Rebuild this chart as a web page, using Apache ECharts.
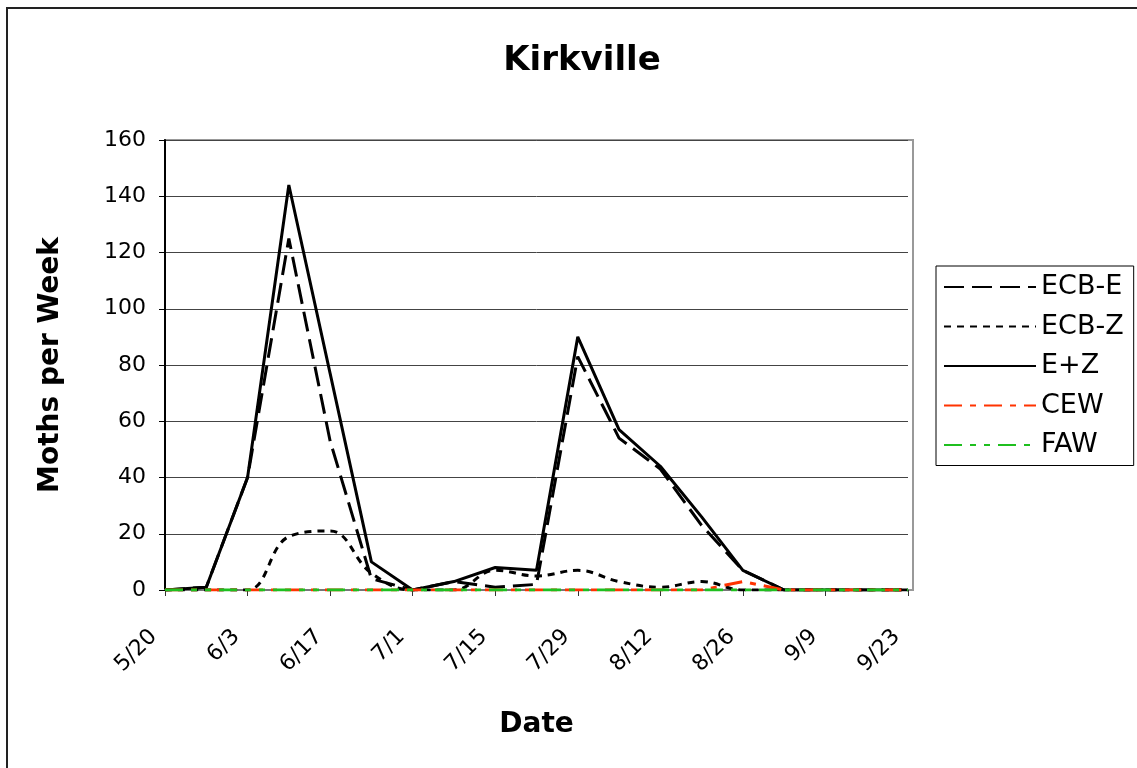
<!DOCTYPE html>
<html>
<head>
<meta charset="utf-8">
<script src="https://cdn.jsdelivr.net/npm/echarts@6/dist/echarts.min.js"></script>
<style>
html,body{margin:0;padding:0;background:#fff;}
#chart{width:1137px;height:768px;}
</style>
</head>
<body>
<div id="chart"></div>
<script>
var categories = ['5/20','5/27','6/3','6/10','6/17','6/24','7/1','7/8','7/15','7/22','7/29','8/5','8/12','8/19','8/26','9/2','9/9','9/16','9/23'];
var ecbE = [0, 1, 40, 125, 53, 4, 0, 3, 1, 2, 83, 54, 43, 23, 7, 0, 0, 0, 0];
var ecbZ = [0, 0, 0, 19, 21, 6, 0, 0, 7, 5, 7, 3, 1, 3, 0, 0, 0, 0, 0];
var ePlusZ = [0, 1, 40, 144, 77, 10, 0, 3, 8, 7, 90, 57, 44, 26, 7, 0, 0, 0, 0];
var cew = [0, 0, 0, 0, 0, 0, 0, 0, 0, 0, 0, 0, 0, 0, 3, 0, 0, 0, 0];
var faw = [0, 0, 0, 0, 0, 0, 0, 0, 0, 0, 0, 0, 0, 0, 0, 0, 0, 0, 0];
var yTicks = [0, 20, 40, 60, 80, 100, 120, 140, 160];

var FONT = 'DejaVu Sans';
var chart = echarts.init(document.getElementById('chart'), null, {renderer: 'canvas'});

function lineSeries(name, data, color, dash, width, smooth) {
  return {
    name: name, type: 'line', data: data, symbol: 'none', smooth: smooth || false,
    lineStyle: {color: color, width: width, type: dash},
    itemStyle: {color: color, opacity: 0},
    emphasis: {disabled: true}, animation: false
  };
}

chart.setOption({
  animation: false,
  backgroundColor: '#fff',
  title: {
    text: 'Kirkville', left: 577, textAlign: 'center', top: 39,
    textStyle: {fontFamily: FONT, fontSize: 34, fontWeight: 'bold', color: '#000'}
  },
  graphic: [
    {type: 'rect', z: -10, silent: true, shape: {x: 7, y: 8, width: 1200, height: 800},
     style: {fill: 'none', stroke: '#222', lineWidth: 2}},
    {type: 'rect', z: -5, silent: true, shape: {x: 165, y: 140, width: 748, height: 450},
     style: {fill: 'none', stroke: '#999', lineWidth: 2}}
  ],
  legend: {
    orient: 'vertical', left: 936, top: 266,
    padding: [7.5, 10, 7, 7],
    itemWidth: 92, itemHeight: 14, itemGap: 12.5,
    borderColor: '#000', borderWidth: 1,
    itemStyle: {opacity: 0},
    textStyle: {fontFamily: FONT, fontSize: 27, color: '#000'},
    data: ['ECB-E','ECB-Z','E+Z','CEW','FAW']
  },
  grid: {left: 165, right: 229, top: 140, bottom: 178, containLabel: false},
  xAxis: {
    type: 'category', data: categories, boundaryGap: false,
    name: 'Date', nameLocation: 'middle', nameGap: 121,
    nameTextStyle: {fontFamily: FONT, fontSize: 28, fontWeight: 'bold', color: '#000'},
    axisLine: {lineStyle: {color: '#777', width: 2}},
    axisTick: {show: true, interval: 1, length: 6, lineStyle: {color: '#333', width: 1}},
    axisLabel: {interval: 1, rotate: 45, margin: 32, padding: [0, 16, 0, 0],
      fontFamily: FONT, fontSize: 22, color: '#000'},
    splitLine: {show: false}
  },
  yAxis: {
    type: 'value', min: yTicks[0], max: yTicks[yTicks.length-1], interval: 20,
    name: 'Moths per Week', nameLocation: 'middle', nameGap: 100,
    nameTextStyle: {fontFamily: FONT, fontSize: 28, fontWeight: 'bold', color: '#000'},
    axisLine: {show: true, lineStyle: {color: '#000', width: 2}},
    axisTick: {show: true, length: 6, lineStyle: {color: '#000', width: 1}},
    axisLabel: {margin: 19, fontFamily: FONT, fontSize: 22, color: '#000'},
    splitLine: {show: true, lineStyle: {color: '#444', width: 1}}
  },
  series: [
    lineSeries('ECB-E', ecbE, '#000', [20, 8], 3),
    lineSeries('ECB-Z', ecbZ, '#000', [7, 6], 3, 0.4),
    lineSeries('E+Z', ePlusZ, '#000', 'solid', 3),
    lineSeries('CEW', cew, '#ff3300', [18, 8, 6, 8], 3),
    lineSeries('FAW', faw, '#1fbf1f', [18, 8, 6, 8, 6, 8], 3)
  ]
});
</script>
</body>
</html>
